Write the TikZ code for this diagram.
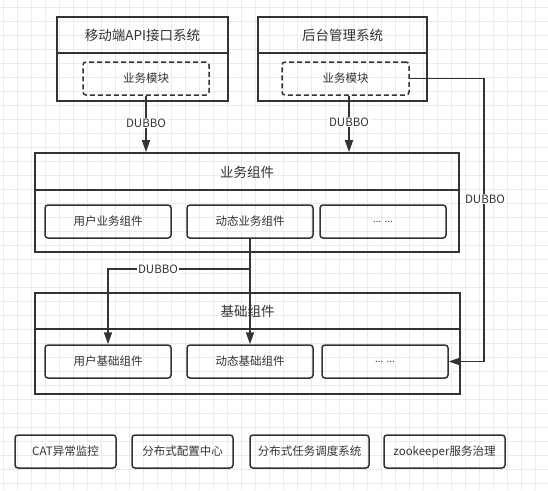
\documentclass[tikz,border=0pt]{standalone}
\usepackage{fontspec}
\setmainfont{Noto Sans CJK SC}
\newfontfamily\latinf{Noto Sans}
\usetikzlibrary{arrows.meta}
\definecolor{ink}{HTML}{333333}
\definecolor{gridc}{HTML}{EBEBEB}
\tikzset{
  outerbox/.style={draw=ink, line width=1.6pt, inner sep=0pt},
  innerbox/.style={draw=ink, line width=1.5pt, rounded corners=3pt, inner sep=0pt, minimum height=33pt, text=ink, font=\fontsize{11.5}{13}\selectfont},
  dashbox/.style={innerbox, dash pattern=on 5pt off 3pt},
  titletext/.style={text=ink, font=\fontsize{13.5}{15}\selectfont, inner sep=0pt},
  divider/.style={draw=ink, line width=1.6pt},
  conn/.style={draw=ink, line width=1.5pt},
  tip/.style={-{Triangle[length=12pt,width=8pt]}},
  lbl/.style={fill=white, text=ink, inner sep=1pt, font=\fontsize{11.5}{13}\selectfont},
  gridline/.style={draw=gridc, line width=0.8pt}
}
\begin{document}
\begin{tikzpicture}[x=1pt,y=-1pt]
\useasboundingbox (0,0) rectangle (548,490);
\fill[white] (0,0) rectangle (548,490);
% grid
\foreach \i in {0,...,38} \draw[gridline] ({3.5+14*\i},0) -- ({3.5+14*\i},490);
\foreach \i in {0,...,34} \draw[gridline] (0,{7+14*\i}) -- (548,{7+14*\i});

% top-left system
\node[outerbox, minimum width=171pt, minimum height=84pt] (tl) at (142.5,59) {};
\draw[divider] (tl.west |- 0,53) -- (tl.east |- 0,53);
\node[titletext] (tlt) at (142.5,35) {移动端API接口系统};
\node[dashbox, minimum width=126pt] (dashL) at (146,78.5) {业务模块};

% top-right system
\node[outerbox, minimum width=169pt, minimum height=84pt] (tr) at (342.5,59) {};
\draw[divider] (tr.west |- 0,53) -- (tr.east |- 0,53);
\node[titletext] (trt) at (342.5,35) {后台管理系统};
\node[dashbox, minimum width=127pt] (dashR) at (345.5,78.5) {业务模块};

% business components
\node[outerbox, minimum width=424pt, minimum height=99pt] (mid) at (247,202.5) {};
\draw[divider] (mid.west |- 0,190) -- (mid.east |- 0,190);
\node[titletext] (midt) at (247,172) {业务组件};
\node[innerbox, minimum width=126pt] (busr) at (108,221.5) {用户业务组件};
\node[innerbox, minimum width=126pt] (bdyn) at (250,221.5) {动态业务组件};
\node[innerbox, minimum width=126pt] (bdots) at (383,221.5) {\latinf\fontsize{10}{12}\selectfont ... ...};

% base components
\node[outerbox, minimum width=425pt, minimum height=101pt] (bot) at (247.5,343.5) {};
\draw[divider] (bot.west |- 0,329) -- (bot.east |- 0,329);
\node[titletext] (bott) at (247.5,311) {基础组件};
\node[innerbox, minimum width=126pt] (fusr) at (108,361.5) {用户基础组件};
\node[innerbox, minimum width=126pt] (fdyn) at (250,361.5) {动态基础组件};
\node[innerbox, minimum width=126pt] (fdots) at (385,361.5) {\latinf\fontsize{10}{12}\selectfont ... ...};

% bottom row
\node[innerbox, minimum width=101pt] (cat) at (65.5,451.5) {CAT异常监控};
\node[innerbox, minimum width=101pt] (cfg) at (182.5,451.5) {分布式配置中心};
\node[innerbox, minimum width=119pt] (job) at (309.5,451.5) {分布式任务调度系统};
\node[innerbox, minimum width=121pt] (zk) at (444.5,451.5) {zookeeper服务治理};

% connectors
\draw[conn,tip] (dashL.south) -- (dashL.south |- mid.north);
\node[lbl] (l1) at (146,123) {DUBBO};
\draw[conn,tip] ([xshift=3.5pt]dashR.south) -- ([xshift=3.5pt]dashR.south |- mid.north);
\node[lbl] (l2) at (349,122) {DUBBO};

\coordinate (br) at (250,269);
\draw[conn,tip] (bdyn.south) -- (fdyn.north);
\draw[conn,tip] (br) -| (fusr.north);
\node[lbl] (l3) at (158,269) {DUBBO};

\coordinate (rc) at (484,200);
\draw[conn,tip] (dashR.east) -| (rc) |- (fdots.east);
\node[lbl] (l4) at (485,199) {DUBBO};
\end{tikzpicture}
\end{document}
